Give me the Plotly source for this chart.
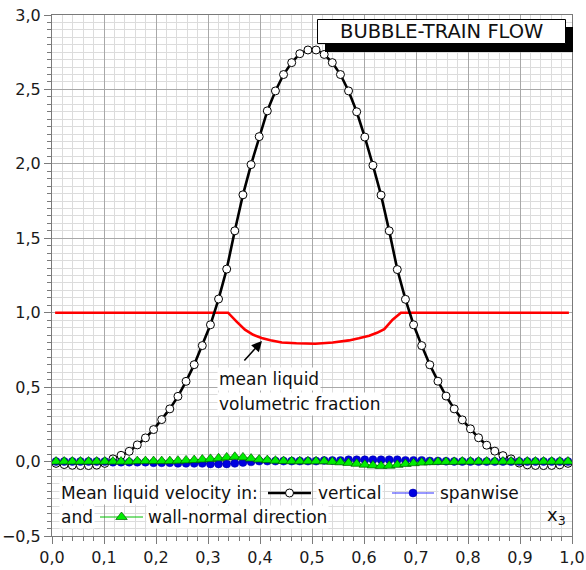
import plotly.graph_objects as go

# ---------------- data ----------------
N = 64
x_pts = [(i + 0.5) / N for i in range(N)]

vertical = [-0.012, -0.020, -0.025, -0.027, -0.027, -0.024, -0.012, 0.018,
            0.042, 0.069, 0.112, 0.159, 0.215, 0.282, 0.354, 0.438,
            0.539, 0.651, 0.779, 0.919, 1.092, 1.293, 1.550, 1.792,
            1.995, 2.183, 2.356, 2.490, 2.600, 2.680, 2.740, 2.765,
            2.765, 2.735, 2.680, 2.600, 2.490, 2.350, 2.180, 1.990,
            1.790, 1.550, 1.290, 1.090, 0.919, 0.779, 0.650, 0.540,
            0.440, 0.354, 0.280, 0.220, 0.160, 0.110, 0.070, 0.040,
            0.018, -0.010, -0.022, -0.026, -0.027, -0.026, -0.022, -0.012]

spanwise = [0.0, 0.0, 0.0, 0.0, 0.0, 0.0, 0.0, -0.004,
            -0.004, -0.004, -0.004, -0.004, -0.008, -0.008, -0.008, -0.012,
            -0.012, -0.012, -0.012, -0.016, -0.016, -0.016, -0.012, -0.006,
            -0.002, 0.003, 0.003, 0.003, 0.003, 0.003, 0.003, 0.003,
            0.003, 0.007, 0.007, 0.007, 0.012, 0.012, 0.012, 0.012,
            0.012, 0.012, 0.012, 0.008, 0.008, 0.008, 0.004, 0.003,
            0.002, 0.001, 0.0, 0.0, 0.0, 0.0, 0.0, 0.0,
            0.0, 0.0, 0.0, 0.0, 0.0, 0.0, 0.0, 0.0]

wall_normal = [0.0, 0.0, 0.0, 0.0, 0.0, 0.0, 0.0, 0.0,
               0.0, 0.0, 0.003, 0.003, 0.003, 0.003, 0.003, 0.006,
               0.008, 0.010, 0.014, 0.018, 0.022, 0.028, 0.032, 0.028,
               0.020, 0.014, 0.010, 0.006, 0.004, 0.002, 0.002, 0.002,
               0.002, 0.002, -0.002, -0.005, -0.009, -0.015, -0.021, -0.026,
               -0.029, -0.028, -0.022, -0.016, -0.011, -0.007, -0.004, -0.002,
               -0.002, -0.002, 0.0, 0.0, 0.0, 0.0, 0.0, 0.0,
               0.0, 0.0, 0.0, 0.0, 0.0, 0.0, 0.0, 0.0]

frac_x = [0.006, 0.3385, 0.355, 0.371, 0.387, 0.403, 0.420, 0.442, 0.470,
          0.506, 0.540, 0.571, 0.590, 0.610, 0.625, 0.639, 0.655, 0.671, 0.994]
frac_y = [1.0, 1.0, 0.94, 0.886, 0.852, 0.830, 0.815, 0.800, 0.795,
          0.792, 0.800, 0.814, 0.828, 0.846, 0.865, 0.890, 0.953, 1.0, 1.0]

x_ticks = [round(0.1 * k, 1) for k in range(11)]
y_ticks = [-0.5, 0.0, 0.5, 1.0, 1.5, 2.0, 2.5, 3.0]

title_text = "BUBBLE-TRAIN FLOW"
legend_lead = "Mean liquid velocity in:"
legend_names = ["vertical", "spanwise", "wall-normal direction"]

# ---------------- layout helpers ----------------
W, H = 586, 570
L, R, T, B = 52, 572, 15, 536
XR = (0.0, 1.0)
YR = (-0.5, 3.0)
FONT = "DejaVu Sans"


def dx(p):  # pixel -> data x
    return XR[0] + (p - L) / (R - L) * (XR[1] - XR[0])


def dy(p):  # pixel -> data y
    return YR[1] - (p - T) / (B - T) * (YR[1] - YR[0])


def pxp(p):
    return (p - L) / (R - L)


def pyp(p):
    return 1 - (p - T) / (B - T)


fig = go.Figure()

fig.add_trace(go.Scatter(x=frac_x, y=frac_y, mode="lines",
                         line=dict(color="#ff0000", width=2.6),
                         showlegend=False))
fig.add_trace(go.Scatter(x=x_pts, y=vertical, mode="lines+markers",
                         line=dict(color="black", width=2.6),
                         marker=dict(symbol="circle", size=8, color="white",
                                     line=dict(color="black", width=1)),
                         showlegend=False))
fig.add_trace(go.Scatter(x=x_pts, y=spanwise, mode="lines+markers",
                         line=dict(color="#3030ff", width=1),
                         marker=dict(symbol="circle", size=8, color="#0000e0",
                                     line=dict(color="#0000a0", width=0.5)),
                         showlegend=False))
fig.add_trace(go.Scatter(x=x_pts, y=wall_normal, mode="lines+markers",
                         line=dict(color="#00c000", width=1),
                         marker=dict(symbol="triangle-up", size=10, color="#00ee00",
                                     line=dict(color="#006000", width=0.7)),
                         showlegend=False))

# ---------------- manual legend ----------------
ann = []
row1, row2 = 493, 517


def text_ann(txt, px, py, size=17, bg="white"):
    ann.append(dict(x=pxp(px), y=pyp(py), xref="paper", yref="paper",
                    text=txt, showarrow=False, xanchor="left", yanchor="middle",
                    font=dict(family=FONT, size=size, color="#111"),
                    bgcolor=bg, borderpad=1))


text_ann(legend_lead, 59, row1)
text_ann(legend_names[0], 316, row1)
text_ann(legend_names[1], 438, row1)
text_ann("and", 59, row2)
text_ann(legend_names[2], 146, row2)

keys = [
    (268, 311, row1, dict(color="black", width=2.6),
     dict(symbol="circle", size=8, color="white", line=dict(color="black", width=1))),
    (392, 434, row1, dict(color="#3030ff", width=1),
     dict(symbol="circle", size=8, color="#0000e0", line=dict(color="#0000a0", width=0.5))),
    (100, 143, row2, dict(color="#00c000", width=1),
     dict(symbol="triangle-up", size=10, color="#00ee00", line=dict(color="#006000", width=0.7))),
]
for a, b, py, ln, mk in keys:
    fig.add_trace(go.Scatter(x=[dx(a), dx(b)], y=[dy(py), dy(py)], mode="lines",
                             line=ln, showlegend=False, hoverinfo="skip",
                             cliponaxis=False))
    fig.add_trace(go.Scatter(x=[dx((a + b) / 2)], y=[dy(py)], mode="markers",
                             marker=mk, showlegend=False, hoverinfo="skip",
                             cliponaxis=False))

# ---------------- annotations ----------------
text_ann("mean liquid", 217, 379)
text_ann("volumetric fraction", 217, 404)

ann.append(dict(x=dx(262), y=dy(341), xref="x", yref="y",
                ax=dx(243), ay=dy(362), axref="x", ayref="y",
                text="", showarrow=True, arrowhead=2, arrowsize=1.3,
                arrowwidth=1.6, arrowcolor="black"))

ann.append(dict(x=pxp(545), y=pyp(516), xref="paper", yref="paper",
                text="x<sub>3</sub>", showarrow=False, xanchor="left",
                yanchor="middle", font=dict(family=FONT, size=18, color="#111")))

# title box
shapes = [
    dict(type="rect", xref="paper", yref="paper",
         x0=pxp(325), x1=pxp(573), y0=pyp(52), y1=pyp(27),
         fillcolor="black", line=dict(width=0), layer="above"),
    dict(type="rect", xref="paper", yref="paper",
         x0=pxp(317.5), x1=pxp(565.5), y0=pyp(43.5), y1=pyp(19.5),
         fillcolor="white", line=dict(color="black", width=1), layer="above"),
]
ann.append(dict(x=pxp(441.5), y=pyp(31.5), xref="paper", yref="paper",
                text=title_text, showarrow=False, xanchor="center", yanchor="middle",
                font=dict(family=FONT, size=19.5, color="#111")))

axis_common = dict(
    showline=True, linecolor="#7a7a7a", linewidth=1, mirror=True,
    ticks="outside", tickcolor="#7a7a7a", ticklen=7,
    gridcolor="#a8a8a8", gridwidth=1, zeroline=False,
    tickfont=dict(family=FONT, size=16, color="#1a1a1a"),
    tickformat=".1f", automargin=False,
)

fig.update_layout(
    width=W, height=H, autosize=False,
    margin=dict(l=L, r=W - R, t=T, b=H - B, pad=0),
    paper_bgcolor="white", plot_bgcolor="white",
    separators=",.",
    xaxis=dict(range=list(XR), tickvals=x_ticks, **axis_common,
               minor=dict(dtick=0.02, tick0=0, showgrid=True, gridcolor="#dcdcdc",
                          ticks="outside", ticklen=4, tickcolor="#7a7a7a")),
    yaxis=dict(range=list(YR), tickvals=y_ticks, **axis_common,
               minor=dict(dtick=0.05, tick0=0, showgrid=True, gridcolor="#dcdcdc",
                          ticks="outside", ticklen=4, tickcolor="#7a7a7a")),
    annotations=ann, shapes=shapes,
    font=dict(family=FONT),
)

fig.write_html("out.html")
